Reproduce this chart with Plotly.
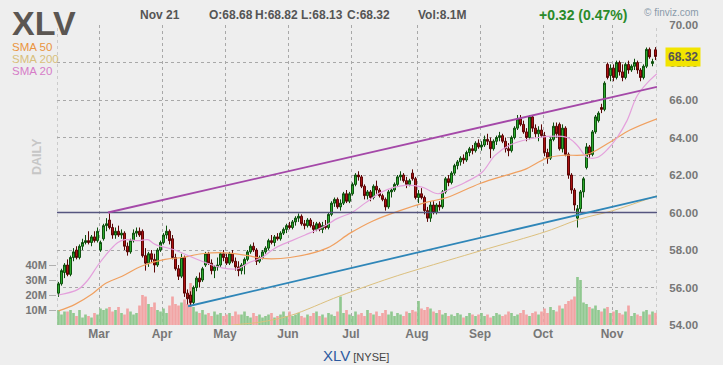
import plotly.graph_objects as go

# ---------------- data ----------------
month_labels = ["Mar", "Apr", "May", "Jun", "Jul", "Aug", "Sep", "Oct", "Nov"]
month_start_idx = [14, 35, 56, 77, 98, 120, 141, 162, 185]   # trading-day index of 1st session

open_ = [
    55.7, 56.2, 56.8, 57.2, 56.7, 57.6, 58.0, 57.6, 58.2, 58.4,
    58.5, 58.4, 58.7, 58.5, 58.0, 58.6, 59.3, 59.6, 59.2, 58.8,
    59.0, 58.8, 58.9, 58.2, 57.9, 58.5, 58.9, 59.0, 59.0, 57.7,
    57.3, 57.8, 57.5, 57.2, 58.0, 58.4, 58.8, 59.0, 58.6, 57.6,
    57.0, 56.6, 57.6, 55.7, 55.6, 55.2, 56.0, 56.5, 56.4, 57.2,
    57.8, 57.3, 56.9, 57.1, 57.2, 57.8, 57.6, 57.3, 57.8, 57.4,
    57.1, 56.9, 57.2, 57.5, 57.9, 58.2, 58.0, 57.4, 57.6, 57.9,
    58.1, 58.5, 58.4, 58.7, 58.6, 58.9, 59.1, 59.3, 59.2, 59.5,
    59.7, 59.8, 59.4, 59.3, 59.6, 59.3, 59.1, 59.4, 59.1, 59.3,
    59.2, 59.9, 60.5, 60.7, 60.3, 60.5, 61.0, 60.6, 61.0, 61.5,
    62.0, 61.9, 61.4, 60.9, 61.1, 60.8, 61.4, 61.2, 60.9, 60.7,
    60.3, 61.1, 61.2, 61.5, 61.9, 62.0, 61.7, 61.5, 62.1, 61.8,
    60.8, 61.0, 60.8, 60.1, 59.7, 60.4, 60.0, 60.4, 60.3, 61.1,
    61.8, 61.6, 62.1, 62.5, 62.7, 62.9, 62.8, 63.2, 63.4, 63.3,
    63.7, 63.5, 63.6, 63.9, 63.8, 63.4, 63.8, 64.0, 64.1, 63.8,
    63.4, 63.3, 64.0, 64.5, 65.0, 64.7, 64.3, 64.0, 65.1, 64.5,
    64.2, 64.4, 64.1, 63.2, 62.9, 63.9, 64.6, 64.7, 63.4, 64.5,
    63.1, 62.0, 61.2, 59.7, 60.2, 61.1, 62.4, 63.5, 63.1, 64.3,
    64.9, 65.6, 65.5, 67.9, 67.3, 67.7, 67.2, 68.0, 67.5, 67.2,
    67.9, 67.6, 67.8, 68.0, 67.6, 67.2, 67.8, 68.7, 67.95, 68.68,
]
high = [
    56.3, 57.0, 57.3, 57.5, 57.7, 58.1, 58.2, 58.3, 58.6, 58.8,
    59.0, 58.8, 59.0, 59.2, 58.5, 59.4, 59.7, 59.95, 59.4, 59.2,
    59.3, 59.1, 59.0, 58.4, 58.6, 59.1, 59.2, 59.2, 59.1, 58.1,
    57.9, 58.0, 57.8, 58.1, 58.5, 58.9, 59.3, 59.1, 58.8, 57.8,
    57.2, 57.8, 57.7, 55.9, 55.8, 56.1, 56.6, 56.8, 57.1, 57.9,
    57.9, 57.5, 57.2, 57.6, 57.9, 58.0, 57.8, 57.9, 58.0, 57.6,
    57.4, 57.3, 57.6, 58.0, 58.3, 58.4, 58.1, 57.7, 58.0, 58.2,
    58.6, 58.8, 58.8, 58.9, 59.0, 59.2, 59.4, 59.5, 59.6, 59.8,
    59.95, 59.9, 59.6, 59.7, 59.7, 59.5, 59.5, 59.5, 59.5, 59.6,
    60.0, 60.6, 60.8, 60.8, 60.7, 61.1, 61.2, 61.1, 61.6, 62.1,
    62.2, 62.0, 61.5, 61.2, 61.2, 61.5, 61.7, 61.3, 61.0, 60.8,
    61.2, 61.3, 61.6, 62.0, 62.2, 62.1, 61.9, 61.8, 62.3, 61.9,
    61.2, 61.3, 60.9, 60.3, 60.6, 60.6, 60.5, 60.6, 61.2, 61.9,
    62.0, 62.2, 62.6, 62.8, 63.0, 63.1, 63.3, 63.5, 63.6, 63.8,
    63.9, 63.8, 64.1, 64.2, 64.0, 63.9, 64.1, 64.3, 64.2, 64.0,
    63.7, 64.1, 64.6, 65.2, 65.2, 64.9, 64.5, 65.2, 65.2, 64.7,
    64.6, 64.7, 64.3, 63.4, 64.0, 64.8, 64.8, 64.8, 64.7, 64.6,
    63.2, 62.1, 61.3, 60.4, 61.2, 61.9, 63.7, 63.6, 64.4, 65.2,
    65.4, 65.8, 67.0, 68.0, 67.9, 67.9, 68.1, 68.1, 67.9, 68.0,
    68.1, 67.9, 68.2, 68.1, 67.7, 67.9, 68.8, 68.8, 68.2, 68.82,
]
low = [
    55.5, 56.1, 56.5, 56.6, 56.6, 57.4, 57.5, 57.5, 58.0, 58.3,
    58.3, 58.2, 58.4, 58.4, 57.9, 58.5, 59.0, 59.1, 58.6, 58.6,
    58.7, 58.6, 58.0, 57.7, 57.8, 58.4, 58.7, 58.7, 57.6, 56.9,
    57.1, 57.3, 56.8, 57.1, 57.9, 58.3, 58.6, 58.3, 57.5, 56.9,
    56.4, 56.5, 55.5, 55.1, 55.0, 55.1, 55.8, 56.0, 56.3, 57.1,
    57.2, 56.7, 56.5, 56.9, 57.1, 57.4, 57.2, 57.2, 57.3, 56.9,
    56.6, 56.7, 56.7, 57.4, 57.8, 57.9, 57.2, 57.3, 57.5, 57.8,
    58.0, 58.3, 58.2, 58.5, 58.5, 58.8, 58.9, 59.1, 59.1, 59.3,
    59.5, 59.3, 59.1, 59.2, 59.2, 58.9, 59.0, 59.0, 58.9, 59.1,
    59.1, 59.8, 60.3, 60.2, 60.1, 60.4, 60.5, 60.5, 60.9, 61.4,
    61.7, 61.3, 60.7, 60.7, 60.6, 60.7, 61.0, 60.8, 60.6, 60.1,
    60.2, 60.8, 61.1, 61.4, 61.7, 61.6, 61.3, 61.4, 61.7, 60.7,
    60.5, 60.7, 59.9, 59.5, 59.5, 59.9, 59.9, 60.1, 60.2, 61.0,
    61.4, 61.5, 62.0, 62.3, 62.5, 62.6, 62.7, 63.0, 63.1, 63.2,
    63.4, 63.3, 63.5, 63.6, 62.9, 63.3, 63.6, 63.8, 63.7, 63.2,
    63.0, 63.2, 63.9, 64.4, 64.6, 64.2, 63.8, 63.9, 64.3, 64.0,
    63.8, 64.0, 63.0, 62.6, 62.8, 63.8, 64.0, 63.3, 63.2, 63.0,
    61.8, 61.0, 60.1, 59.2, 60.0, 60.8, 62.3, 62.9, 63.0, 64.2,
    64.8, 65.3, 65.4, 67.1, 67.0, 67.0, 67.1, 67.3, 67.0, 67.1,
    67.4, 67.5, 67.6, 67.4, 67.0, 67.1, 67.7, 68.2, 67.8, 68.13,
]
close = [
    56.2, 56.9, 57.2, 56.7, 57.6, 57.9, 57.6, 58.2, 58.4, 58.5,
    58.4, 58.7, 58.5, 59.0, 58.4, 59.3, 59.4, 59.2, 58.8, 59.0,
    58.8, 58.9, 58.2, 57.9, 58.5, 58.9, 59.0, 58.8, 57.7, 57.3,
    57.8, 57.5, 57.2, 58.0, 58.4, 58.8, 59.0, 58.5, 57.6, 57.0,
    56.6, 57.6, 55.7, 55.4, 55.2, 56.0, 56.5, 56.3, 57.0, 57.8,
    57.3, 56.9, 57.1, 57.2, 57.8, 57.6, 57.3, 57.8, 57.4, 57.1,
    56.9, 57.2, 57.5, 57.9, 58.2, 58.0, 57.4, 57.6, 57.9, 58.1,
    58.5, 58.4, 58.7, 58.6, 58.9, 59.1, 59.3, 59.2, 59.5, 59.7,
    59.8, 59.4, 59.3, 59.6, 59.3, 59.1, 59.4, 59.1, 59.3, 59.2,
    59.9, 60.5, 60.7, 60.3, 60.5, 61.0, 60.6, 61.0, 61.5, 62.0,
    61.9, 61.4, 60.9, 61.1, 60.8, 61.4, 61.2, 60.9, 60.7, 60.3,
    61.1, 61.2, 61.5, 61.9, 62.0, 61.7, 61.5, 61.7, 61.8, 60.8,
    61.0, 60.8, 60.1, 59.7, 60.4, 60.0, 60.4, 60.3, 61.1, 61.8,
    61.6, 62.1, 62.5, 62.7, 62.9, 62.8, 63.2, 63.4, 63.3, 63.7,
    63.5, 63.6, 63.9, 63.8, 63.4, 63.8, 64.0, 64.1, 63.8, 63.4,
    63.3, 64.0, 64.5, 65.0, 64.7, 64.3, 64.0, 65.1, 64.5, 64.2,
    64.4, 64.1, 63.2, 62.9, 63.9, 64.6, 64.2, 63.4, 64.5, 63.1,
    62.0, 61.2, 60.4, 60.2, 61.1, 61.8, 63.5, 63.1, 64.3, 65.1,
    65.3, 65.5, 66.9, 67.2, 67.7, 67.2, 68.0, 67.5, 67.2, 67.9,
    67.6, 67.8, 68.0, 67.6, 67.2, 67.8, 68.7, 68.3, 68.05, 68.32,
]
volume_m = [
    10, 7, 9, 9, 10, 8, 6, 10, 5, 7, 6, 5, 8, 7,
    11, 10, 11, 12, 9, 10, 12, 8, 7, 11, 9, 7, 8, 13,
    20, 19,
    14, 12, 15, 10, 9, 11, 8,
    13, 19,
    14, 13, 15,
    17, 14,
    28,
    12,
    9, 8, 10, 7, 8, 6, 9, 7, 8, 6, 7, 8, 6, 9, 7,
    7, 9, 6, 5, 8, 6, 7, 5, 6, 7, 8, 5, 6, 7, 9, 6,
    9, 6, 7, 8, 6, 5, 7, 6, 8, 9, 6, 7, 5, 8, 7, 6, 9,
    19,
    8, 10, 7, 6, 9, 7, 8, 6, 10, 8, 7, 9, 6, 8, 10, 7, 9, 6, 8, 7, 6, 9, 8, 10, 9,
    16,
    11, 10, 12, 11, 9, 8, 10,
    7, 8, 6, 7, 6, 8, 7, 5, 6, 8, 7, 6, 7, 8, 6, 7, 5, 6, 8, 7, 6, 7, 9, 8, 6, 7,
    8, 10, 7, 6, 8, 9, 7,
    9, 11, 8, 12, 10, 9, 13, 11, 14, 16, 17, 19,
    32, 30,
    15, 14, 12, 11, 13, 10, 9, 11, 12, 8, 9, 10, 8, 7, 9, 13, 6, 8, 7, 6, 9, 10, 7, 9, 8.1,
]

# moving averages read at sample points (trading-day index, price)
sma20_idx = [0, 6.5, 9.8, 13.2, 17.2, 19.8, 22.2, 26.5, 29.8, 32.2, 38.8, 43.2, 47.8, 54.5,
             59.8, 63.2, 67.8, 72.2, 77.8, 82.2, 87.8, 93.2, 97.8, 102.2, 107.8, 115.5, 121.2,
             126.5, 129.8, 135.5, 141.2, 145.5, 150.5, 160, 169.5, 172.8, 176.2, 179.8, 183.2,
             186.2, 189.5, 192.8, 196.2, 199.5]
sma20_val = [55.6, 55.9, 56.4, 57.2, 58.0, 58.4, 58.55, 58.5, 58.55, 58.3, 58.0, 57.7, 57.4, 57.05,
             57.0, 57.3, 57.6, 58.1, 58.5, 58.8, 59.2, 59.7, 60.0, 60.5, 61.1, 61.45, 61.35,
             61.0, 61.2, 61.6, 62.15, 63.05, 63.6, 64.0, 64.0, 63.6, 62.95, 62.95, 63.4,
             64.0, 64.9, 66.2, 66.9, 67.4]
sma50_idx = [0, 5.5, 11.2, 15.5, 21.2, 27.8, 35.5, 41.2, 47.8, 55.5, 63.2, 67.8, 77.2, 89.5,
             97.2, 104.8, 113.8, 122.8, 129.5, 140.5, 150.5, 155.5, 162.8, 168.2, 176.2, 183.8,
             190.5, 199.5]
sma50_val = [54.75, 55.1, 55.65, 56.2, 56.6, 57.15, 57.5, 57.6, 57.8, 57.85, 57.7, 57.55, 57.6, 58.1,
             58.9, 59.55, 60.1, 60.55, 60.8, 61.55, 62.05, 62.3, 62.9, 63.05, 63.1, 63.75,
             64.4, 65.0]
sma200_idx = [47.5, 55.5, 67.2, 77.2, 93.8, 110.5, 120.5, 140.5, 162.8, 173.8, 184.8, 199.5]
sma200_val = [53.2, 53.9, 54.15, 54.5, 55.55, 56.5, 57.0, 57.95, 59.0, 59.65, 60.1, 60.9]

# drawn trend lines (index, price)
upper_trend_idx = [16.5, 199.5]
upper_trend_val = [60.0, 66.7]
lower_trend_idx = [43.2, 199.5]
lower_trend_val = [55.0, 60.86]
support_level = 60.0

price_ticks = [54, 56, 58, 60, 62, 64, 66, 68, 70]
vol_ticks = [10e6, 20e6, 30e6, 40e6]
vol_tick_labels = ["10M", "20M", "30M", "40M"]

n = len(close)
assert all(len(a) == n for a in (open_, high, low, volume_m)), [len(a) for a in (open_, high, low, close, volume_m)]
idx = list(range(n))

# ---------------- figure ----------------
BG = "#eeeeee"
FONT = "Arial, Liberation Sans, sans-serif"
L, R, T, B = 57, 66, 25, 40
W, H = 723, 365
PW, PH = W - L - R, H - T - B


def pxx(x):
    return (x - L) / PW


def pxy(y):
    return (H - B - y) / PH


fig = go.Figure()

vol_colors = ["#90c890" if c >= o else "#f2a4a4" for o, c in zip(open_, close)]
fig.add_trace(go.Bar(x=idx, y=[v * 1e6 for v in volume_m], marker=dict(color=vol_colors, line=dict(width=0)),
                     yaxis="y", showlegend=False, hoverinfo="skip"))

line_kw = dict(mode="lines", yaxis="y2", showlegend=False, hoverinfo="skip")
fig.add_trace(go.Scatter(x=sma200_idx, y=sma200_val, line=dict(color="#dcc07e", width=1, shape="spline"), **line_kw))
fig.add_trace(go.Scatter(x=sma50_idx, y=sma50_val, line=dict(color="#f0a060", width=1.2, shape="spline"), **line_kw))
fig.add_trace(go.Scatter(x=sma20_idx, y=sma20_val, line=dict(color="#e4a0dc", width=1.2, shape="spline"), **line_kw))
fig.add_trace(go.Scatter(x=[-0.5, n - 0.5], y=[support_level, support_level], line=dict(color="#55557f", width=1.3), **line_kw))
fig.add_trace(go.Scatter(x=upper_trend_idx, y=upper_trend_val, line=dict(color="#a448a8", width=1.8), **line_kw))
fig.add_trace(go.Scatter(x=lower_trend_idx, y=lower_trend_val, line=dict(color="#2f86b8", width=1.8), **line_kw))

fig.add_trace(go.Candlestick(
    x=idx, open=open_, high=high, low=low, close=close, yaxis="y2",
    increasing=dict(fillcolor="#2fae2f", line=dict(color="#0d4f0d", width=1)),
    decreasing=dict(fillcolor="#b01414", line=dict(color="#5a0505", width=1)),
    whiskerwidth=0, showlegend=False, hoverinfo="skip"))

grid = dict(gridcolor="#a8a8a8", griddash="3px,3px", gridwidth=1)

fig.update_layout(
    width=W, height=H, margin=dict(l=L, r=R, t=T, b=B),
    paper_bgcolor=BG, plot_bgcolor=BG, font=dict(family=FONT),
    bargap=0.12, boxgap=0.08,
    xaxis=dict(range=[-0.5, n - 0.5], tickvals=[m - 0.5 for m in month_start_idx], ticktext=month_labels,
               showgrid=True, zeroline=False, showline=False, ticks="", rangeslider=dict(visible=False),
               tickfont=dict(size=12, color="#777777", weight="bold"), **grid),
    yaxis=dict(range=[0, 200e6], side="left", tickvals=vol_ticks, ticktext=vol_tick_labels, showgrid=False,
               zeroline=False, ticks="outside", ticklen=7, tickcolor="#b0b0b0",
               tickfont=dict(size=11, color="#777777", weight="bold")),
    yaxis2=dict(range=[54, 70], overlaying="y", side="right", tickvals=price_ticks, tickformat=".2f",
                showgrid=True, zeroline=False, ticks="outside", ticklen=9, tickcolor=BG,
                tickfont=dict(size=11.5, color="#777777", weight="bold"), **grid),
)

# dashed frame at left/right/top
for xv in (-0.5, n - 0.5):
    fig.add_shape(type="line", xref="x", yref="paper", x0=xv, x1=xv, y0=0, y1=1,
                  line=dict(color="#a8a8a8", width=1, dash="3px,3px"), layer="below")

ann = []


def text(x, y, s, size, color, bold=False, anchor="left", **kw):
    ann.append(dict(x=pxx(x), y=pxy(y), xref="paper", yref="paper", text=s, showarrow=False,
                    xanchor=anchor, yanchor="middle",
                    font=dict(size=size, color=color, family=FONT, weight="bold" if bold else "normal"), **kw))


text(10, 23, "XLV", 34, "#5b5652", bold=True)
text(10, 47, "SMA 50", 11.5, "#ea9440")
text(10, 59, "SMA 200", 11.5, "#d8bf7c")
text(10, 71, "SMA 20", 11.5, "#d67cc8")
text(37, 157, "DAILY", 12.5, "#c6c6c6", bold=True, anchor="center", textangle=-90)
text(138, 15, "Nov 21", 12, "#555555", bold=True)
text(207, 15, f"O:{open_[-1]:.2f}", 12, "#555555", bold=True)
text(253, 15, f"H:{high[-1]:.2f}", 12, "#555555", bold=True)
text(299, 15, f"L:{low[-1]:.2f}", 12, "#555555", bold=True)
text(345, 15, f"C:{close[-1]:.2f}", 12, "#555555", bold=True)
text(416, 15, f"Vol:{volume_m[-1]:.1f}M", 12, "#555555", bold=True)
text(537, 15, "+0.32 (0.47%)", 14, "#2a8a2a", bold=True)
text(642, 12, "© finviz.com", 10, "#8a9aaa")
text(356, 355, "<span style='color:#2d5aa0;font-size:15px'>XLV</span> <span style='font-size:11px'>[NYSE]</span>",
     11, "#444444", anchor="center")
ann.append(dict(x=pxx(665), y=close[-1], xref="paper", yref="y2", text=f"<b>{close[-1]:.2f}</b>", showarrow=False,
                xanchor="left", yanchor="middle", bgcolor="#f2e400", borderpad=2,
                font=dict(size=12, color="#555555", family=FONT)))
fig.update_layout(annotations=ann)

fig.write_html("out.html", config={"displayModeBar": False, "staticPlot": True},
               post_script="document.body.style.margin='0';document.body.style.overflow='hidden';")
